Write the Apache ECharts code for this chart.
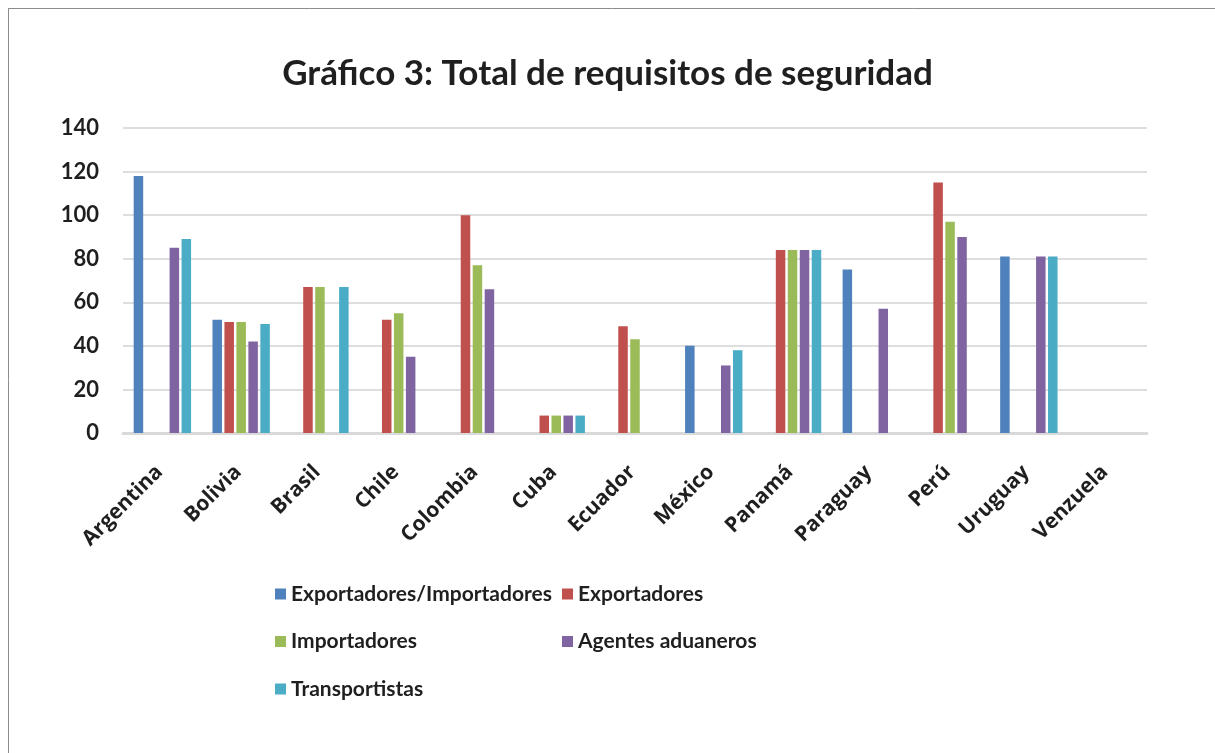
<!DOCTYPE html>
<html>
<head>
<meta charset="utf-8">
<script src="https://cdn.jsdelivr.net/npm/echarts@6/dist/echarts.min.js"></script>
<style>
html,body{margin:0;padding:0;background:#fff;}
#chart{width:1215px;height:753px;}
</style>
</head>
<body>
<div id="chart"></div>
<script>
const categories = ['Argentina','Bolivia','Brasil','Chile','Colombia','Cuba','Ecuador','México','Panamá','Paraguay','Perú','Uruguay','Venzuela'];
const seriesNames = ['Exportadores/Importadores','Exportadores','Importadores','Agentes aduaneros','Transportistas'];
const expImp      = [118, 52, null, null, null, null, null, 40, null, 75, null, 81, null];
const exportadores= [null, 51, 67, 52, 100, 8, 49, null, 84, null, 115, null, null];
const importadores= [null, 51, 67, 55, 77, 8, 43, null, 84, null, 97, null, null];
const agentes     = [85, 42, null, 35, 66, 8, null, 31, 84, 57, 90, 81, null];
const transport   = [89, 50, 67, null, null, 8, null, 38, 84, null, null, 81, null];
const yTicks = [0, 20, 40, 60, 80, 100, 120, 140];

const colors = ['#4f81bd','#c0504d','#9bbb59','#8064a2','#4bacc6'];
const dataSets = [expImp, exportadores, importadores, agentes, transport];
const txt = '#1f1f1f';
const chart = echarts.init(document.getElementById('chart'), null, {renderer:'canvas'});

const series = seriesNames.map((n, i) => ({
  name: n,
  type: 'bar',
  data: dataSets[i],
  barWidth: 9.5,
  barGap: '26%',
  itemStyle: {color: colors[i]}
}));

const legendText = {fontFamily: 'Lato', fontWeight: 'bold', fontSize: 21, color: txt, lineHeight: 22};

chart.setOption({
  animation: false,
  color: colors,
  title: {
    text: 'Gráfico 3: Total de requisitos de seguridad',
    left: 'center',
    top: 51,
    textStyle: {fontFamily: 'Lato', fontWeight: 'bold', fontSize: 35, color: txt}
  },
  graphic: [
    {type: 'line', shape: {x1: 8, y1: 8.5, x2: 1215, y2: 8.5}, style: {stroke: '#8c8c8c', lineWidth: 1}},
    {type: 'line', shape: {x1: 8.5, y1: 8, x2: 8.5, y2: 753}, style: {stroke: '#8c8c8c', lineWidth: 1}}
  ],
  legend: [
    {
      data: [seriesNames[0], seriesNames[2], seriesNames[4]],
      orient: 'vertical', left: 275, top: 583, padding: 0,
      itemWidth: 11, itemHeight: 11, itemGap: 25.5, icon: 'rect',
      textStyle: legendText
    },
    {
      data: [seriesNames[1], seriesNames[3]],
      orient: 'vertical', left: 562, top: 583, padding: 0,
      itemWidth: 11, itemHeight: 11, itemGap: 25.5, icon: 'rect',
      textStyle: legendText
    }
  ],
  grid: {left: 123, right: 68, top: 128, bottom: 320, containLabel: false},
  xAxis: {
    type: 'category',
    data: categories,
    axisLine: {lineStyle: {color: '#d9d9d9', width: 3}},
    axisTick: {show: false},
    axisLabel: {
      rotate: 45, margin: 33, interval: 0, padding: [0, 4, 0, 0],
      fontFamily: 'Open Sans', fontWeight: 'bold', fontSize: 21, color: txt
    }
  },
  yAxis: {
    type: 'value',
    min: yTicks[0], max: yTicks[yTicks.length - 1], interval: 20,
    axisLine: {show: false},
    axisTick: {show: false},
    splitLine: {lineStyle: {color: '#dedede', width: 2}},
    axisLabel: {
      margin: 24,
      fontFamily: 'Lato', fontWeight: 'bold', fontSize: 22, color: txt
    }
  },
  series: series
});
</script>
</body>
</html>
